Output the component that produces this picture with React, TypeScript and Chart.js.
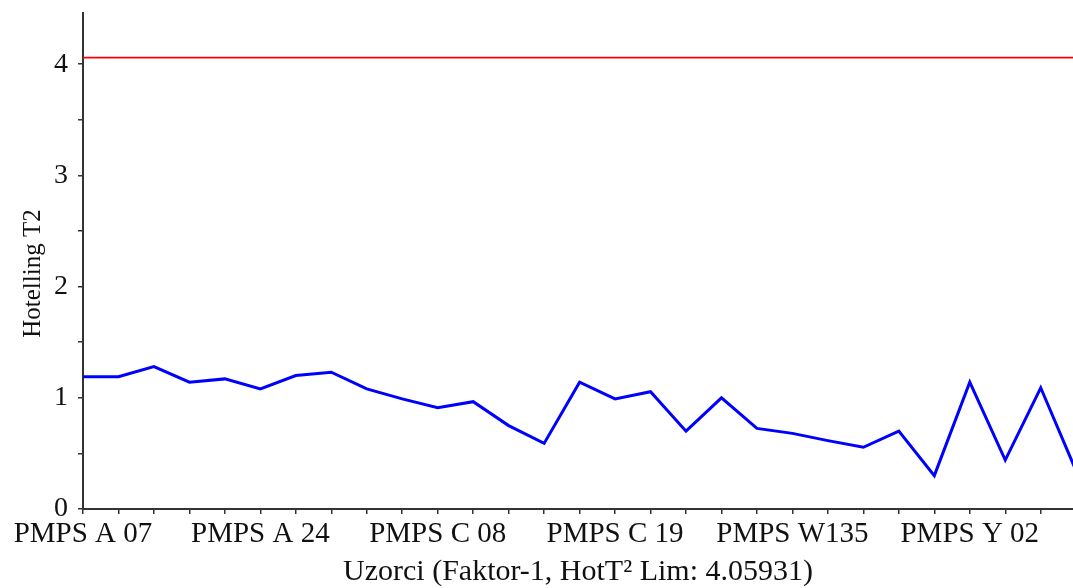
import React, { useEffect, useRef } from "react";
import { Chart, registerables } from "chart.js";

Chart.register(...registerables);

// Hotelling T2 value per sample (sample index along x)
const t2Values = [
  1.19, 1.19, 1.28, 1.14, 1.17, 1.08, 1.2, 1.23, 1.08, 0.99,
  0.91, 0.965, 0.75, 0.59, 1.14, 0.99, 1.055, 0.7, 1.0, 0.725,
  0.68, 0.615, 0.555, 0.7, 0.3, 1.14, 0.44, 1.09, 0.34,
];
// labelled samples (every 5th sample)
const tickLabels = ["PMPS A 07", "PMPS A 24", "PMPS C 08", "PMPS C 19", "PMPS W135", "PMPS Y 02"];
const LABEL_EVERY = 5;
const HOT_LIMIT = 4.05931;
const X_MAX = 27.91;
const Y_MAX = 4.46;

const FONT = '"Liberation Serif", "Times New Roman", serif';

export default function App() {
  const ref = useRef<HTMLCanvasElement | null>(null);
  useEffect(() => {
    if (!ref.current) return;
    const chart = new Chart(ref.current, {
      type: "line",
      data: {
        datasets: [
          {
            label: "Hotelling T2",
            data: t2Values.map((v, i) => ({ x: i, y: v })),
            borderColor: "#0000ff",
            borderWidth: 3,
            pointRadius: 0,
            tension: 0,
            fill: false,
          },
          {
            label: "Limit",
            data: [
              { x: 0, y: HOT_LIMIT },
              { x: t2Values.length, y: HOT_LIMIT },
            ],
            borderColor: "#ff0000",
            borderWidth: 1.8,
            pointRadius: 0,
            fill: false,
          },
        ],
      },
      options: {
        animation: false,
        responsive: true,
        maintainAspectRatio: false,
        layout: { padding: { top: 13, left: 0, right: 0, bottom: 0 } },
        plugins: { legend: { display: false }, tooltip: { enabled: false } },
        scales: {
          x: {
            type: "linear",
            min: 0,
            max: X_MAX,
            afterBuildTicks: (scale: any) => {
              const t: any[] = [];
              for (let i = 0; i < t2Values.length - 1; i++) t.push({ value: i });
              scale.ticks = t;
            },
            afterFit: (scale: any) => {
              scale.height = 79;
              scale.paddingLeft = 0;
              scale.paddingRight = 0;
            },
            ticks: {
              autoSkip: false,
              maxRotation: 0,
              minRotation: 0,
              padding: 3,
              color: "#111",
              font: { family: FONT, size: 29 },
              callback: (v: any) => {
                const n = Number(v);
                return n % LABEL_EVERY === 0 ? tickLabels[n / LABEL_EVERY] ?? "" : "";
              },
            },
            grid: {
              display: true,
              drawOnChartArea: false,
              drawTicks: true,
              tickLength: 5,
              color: "#333",
              lineWidth: 1.5,
            },
            border: { display: true, color: "#333", width: 2 },
            title: {
              display: true,
              text: "Uzorci (Faktor-1, HotT² Lim: 4.05931)",
              color: "#111",
              font: { family: FONT, size: 30, lineHeight: 1 },
              padding: { top: 0, bottom: 1 },
            },
          },
          y: {
            type: "linear",
            min: 0,
            max: Y_MAX,
            afterFit: (scale: any) => {
              scale.width = 83;
              scale.paddingTop = 0;
              scale.paddingBottom = 0;
            },
            ticks: {
              stepSize: 0.5,
              includeBounds: false,
              padding: 10,
              color: "#111",
              font: { family: FONT, size: 28 },
              callback: (v: any) => (Number.isInteger(Number(v)) ? String(v) : ""),
            },
            grid: {
              display: true,
              drawOnChartArea: false,
              drawTicks: true,
              tickLength: 5,
              color: "#333",
              lineWidth: 1.5,
            },
            border: { display: true, color: "#333", width: 2 },
            title: {
              display: true,
              text: "Hotelling T2    ",
              color: "#111",
              font: { family: FONT, size: 25, lineHeight: 1 },
              padding: { top: 21, bottom: 0 },
            },
          },
        },
      },
    });
    return () => chart.destroy();
  }, []);
  return (
    <div style={{ position: "fixed", left: 0, top: 0, width: 1073, height: 588, background: "#fff" }}>
      <canvas ref={ref} />
    </div>
  );
}
